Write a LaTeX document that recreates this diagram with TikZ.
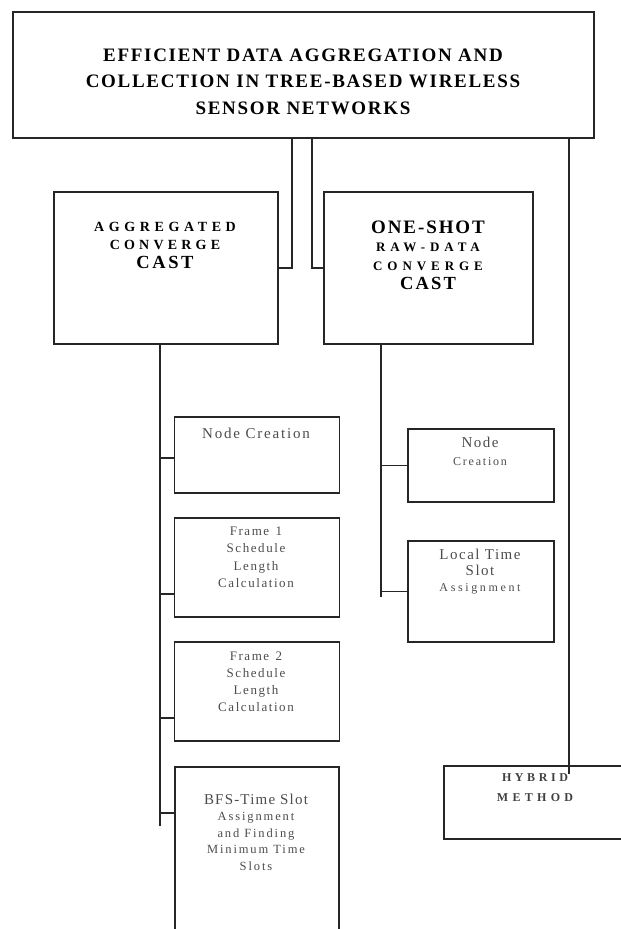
\documentclass[tikz,border=0pt]{standalone}
\usepackage{fontspec}
\setmainfont{Liberation Serif}
\newcommand{\spc}[2]{{\addfontfeature{LetterSpace=#1}#2}}

\tikzset{
  stagebox/.style={draw=black!85, line width=1.8pt, inner sep=0pt, anchor=north west},
  conn/.style={draw=black!85, line width=1.8pt},
  headtxt/.style={align=center, inner sep=0pt, text=black, font=\bfseries},
  notetxt/.style={align=center, inner sep=0pt, text=black!70},
}

\begin{document}
\begin{tikzpicture}[x=1pt, y=-1pt]
	\useasboundingbox (0,0) rectangle (621,929);
	\clip (0,0) rectangle (621,929);
	
	%%%%% BOXES %%%%%
	\node[stagebox, minimum width=581pt, minimum height=126pt] (title) at (12,11) {};
	\node[stagebox, minimum width=224pt, minimum height=152pt] (agg) at (53,191) {};
	\node[stagebox, minimum width=209pt, minimum height=152pt] (oneshot) at (323,191) {};
	
	\node[stagebox, minimum width=165pt, minimum height=76pt] (nc) at (173.5,416) {};
	\node[stagebox, minimum width=165pt, minimum height=99pt] (fone) at (173.5,517) {};
	\node[stagebox, minimum width=165pt, minimum height=99pt] (ftwo) at (173.5,641) {};
	\node[stagebox, minimum width=164pt, minimum height=200pt] (bfs) at (174,766) {};
	
	\node[stagebox, minimum width=146pt, minimum height=73pt] (nd) at (407,428) {};
	\node[stagebox, minimum width=146pt, minimum height=101pt] (lts) at (407,540) {};
	
	\node[stagebox, minimum width=190pt, minimum height=73pt] (hybrid) at (443,765) {};
	
	%%%%% TEXTS %%%%%
	\node[headtxt, font=\bfseries\fontsize{19}{26.5}\selectfont] (titletxt) at (303,81.5)
		{\spc{9}{EFFICIENT DATA AGGREGATION AND}\\\spc{9}{COLLECTION IN TREE-BASED WIRELESS}\\\spc{9}{SENSOR NETWORKS}};
	\node[headtxt, font=\bfseries\fontsize{14}{18.5}\selectfont] (aggtxt) at (165,245)
		{\spc{33}{AGGREGATED}\\\spc{30}{CONVERGE}\\{\fontsize{18.5}{18}\selectfont\spc{14}{CAST}}};
	\node[headtxt, font=\bfseries\fontsize{13}{18.8}\selectfont] (oneshottxt) at (428,255)
		{{\fontsize{19}{19}\selectfont\spc{10}{ONE-SHOT}}\\\spc{38}{RAW-DATA}\\\spc{38}{CONVERGE}\\{\fontsize{18.5}{18}\selectfont\spc{12}{CAST}}};
	
	\node[notetxt, font=\fontsize{15}{15}\selectfont] (nctxt) at (256,433) {\spc{12}{Node Creation}};
	\node[notetxt, font=\fontsize{13}{17.5}\selectfont] (fonetxt) at (256,557.5)
		{\spc{12}{Frame\enspace 1}\\\spc{12}{Schedule}\\\spc{12}{Length}\\\spc{12}{Calculation}};
	\node[notetxt, font=\fontsize{13}{17}\selectfont] (ftwotxt) at (256,681.5)
		{\spc{12}{Frame\enspace 2}\\\spc{12}{Schedule}\\\spc{12}{Length}\\\spc{12}{Calculation}};
	\node[notetxt, font=\fontsize{12.5}{16.5}\selectfont] (bfstxt) at (256,832)
		{{\fontsize{15}{15}\selectfont\spc{8}{BFS-Time Slot}}\\\spc{15}{Assignment}\\\spc{15}{and Finding}\\\spc{15}{Minimum Time}\\\spc{15}{Slots}};
	
	\node[notetxt, font=\fontsize{12}{18.5}\selectfont] (ndtxt) at (480,451.5)
		{{\fontsize{15}{15}\selectfont\spc{10}{Node}}\\\spc{15}{Creation}};
	\node[notetxt, font=\fontsize{12}{16}\selectfont] (ltstxt) at (480,572)
		{{\fontsize{15}{15}\selectfont\spc{10}{Local Time}}\\{\fontsize{15}{15}\selectfont\spc{10}{Slot}}\\\spc{22}{Assignment}};
	
	\node[headtxt, font=\bfseries\fontsize{12}{20}\selectfont, text=black!75] (hybridtxt) at (535,788)
		{\spc{30}{HYBRID}\\\spc{36}{METHOD}};
	
	%%%%% CONNECTORS %%%%%
	\coordinate (aggjoin) at ([xshift=13pt]agg.east);
	\coordinate (onejoin) at ([xshift=-11pt]oneshot.west);
	\draw[conn] (aggjoin |- title.south) |- (agg.east);
	\draw[conn] (onejoin |- title.south) |- (oneshot.west);
	\coordinate (hybridjoin) at ([xshift=-26pt,yshift=-9pt]hybrid.north east -| title.east);
	\draw[conn] (hybridjoin |- title.south) -- (hybridjoin);
	
	% left column
	\coordinate (aggend) at (160,826);
	\draw[conn] (aggend |- agg.south) -- (aggend);
	\coordinate (ncin) at ([yshift=-3pt]nc.west);
	\coordinate (fonein) at ([yshift=24pt]fone.south west);
	\coordinate (ftwoin) at ([yshift=24pt]ftwo.south west);
	\coordinate (bfsin) at ([yshift=-47pt]bfs.north west);
	\foreach \b in {ncin,fonein,ftwoin,bfsin}
		\draw[conn] (aggend |- \b) -- (\b);
	
	% right column
	\coordinate (oneend) at (381,597);
	\draw[conn] (oneend |- oneshot.south) -- (oneend);
	\draw[conn] (oneend |- nd.west) -- (nd.west);
	\draw[conn] (oneend |- lts.west) -- (lts.west);
\end{tikzpicture}
\end{document}
